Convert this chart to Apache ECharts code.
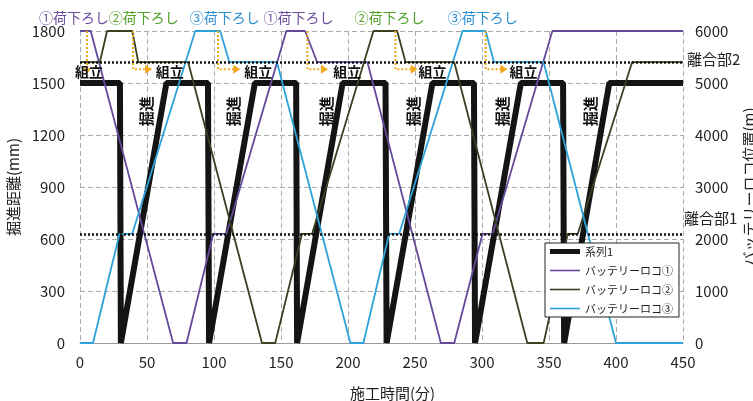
<!DOCTYPE html>
<html><head><meta charset="utf-8">
<script src="https://cdn.jsdelivr.net/npm/echarts/dist/echarts.min.js"></script>
<style>html,body{margin:0;padding:0;background:#fff}#c{width:753px;height:401px}</style>
</head><body><div id="c"></div>
<script>
// ---------- data ----------
const seriesNames = ['系列1', 'バッテリーロコ①', 'バッテリーロコ②', 'バッテリーロコ③'];
// 掘進距離 (mm) vs 施工時間 (分)
const excavation = [[0,1500],[29.8,1500],[30.5,0],[64.5,1500],[95.5,1500],[96.3,0],[130.5,1500],[161.3,1500],[162,0],[196,1500],[228,1500],[228.8,0],[263,1500],[294,1500],[294.8,0],[329,1500],[360.5,1500],[361.3,0],[395,1500],[450,1500]];
// バッテリーロコ位置 (m)
const loco1 = [[0,6000],[8,6000],[69.5,0],[79.5,0],[99.5,2100],[109.3,2100],[154,6000],[168,6000],[177,5400],[214.5,5400],[269.3,0],[279.3,0],[300.4,2100],[308,2100],[352.5,6000],[450,6000]];
const loco2 = [[0,5400],[14.8,5400],[20.2,6000],[39,6000],[43.5,5400],[80.7,5400],[135.8,0],[145.7,0],[165.7,2100],[173.2,2100],[219,6000],[236.7,6000],[243,5400],[279.3,5400],[333.8,0],[346,0],[364,2100],[371.5,2100],[412,5400],[450,5400]];
const loco3 = [[0,0],[9.7,0],[29.5,2100],[39,2100],[86,6000],[104.6,6000],[111.5,5400],[147,5400],[201.8,0],[211.5,0],[230.7,2100],[238.2,2100],[285.5,6000],[302.7,6000],[309,5400],[346,5400],[400,0],[450,0]];
// 離合部
const passingNames = ['離合部2', '離合部1'];
const passingPos = [5400, 2100];
// annotations (x in minutes)
const unloadTexts = ['①荷下ろし','②荷下ろし','③荷下ろし','①荷下ろし','②荷下ろし','③荷下ろし'];
const unloadX = [-4.5, 47.5, 108, 163, 231, 300.5];
const assemblyX = [6.7, 67, 133, 199.5, 263, 331];
const excavTextX = [49.7, 114.5, 183.5, 249, 315.5, 381];
const arrowFromX = [5.2, 39.6, 103, 169.7, 235.4, 302.7];
const arrowToX = [null, 53.8, 119.6, 185, 252, 319];

// ---------- styles ----------
const FONT = '"Noto Sans CJK JP","Noto Sans",sans-serif';
const C1 = '#654a9c', C2 = '#3b4020', C3 = '#2ea2da', CB = '#141414';
const labelColors = {'①': '#6a4c9e', '②': '#52a02a', '③': '#2a8fd0'};
const ORANGE = '#f2a81d';
const thickIcon = 'path://M0,0 L30,0 L30,5 L0,5 Z';
const thinIcon = 'path://M0,0 L30,0 L30,1.6 L0,1.6 Z';

const chart = echarts.init(document.getElementById('c'), null, {renderer: 'canvas'});
const plain = v => String(v);
const axisLabel = {color: '#222', fontSize: 15, fontFamily: FONT, formatter: plain};
const option = {
  animation: false,
  backgroundColor: '#fff',
  textStyle: {fontFamily: FONT},
  grid: {left: 80, right: 70, top: 31, bottom: 58, containLabel: false, outerBoundsMode: 'none'},
  legend: {
    data: seriesNames.map((n, i) => ({name: n, icon: i === 0 ? thickIcon : thinIcon})),
    orient: 'vertical', left: 545, top: 243,
    backgroundColor: '#fff', borderColor: '#222', borderWidth: 1, borderRadius: 0,
    padding: [3, 6, 3, 5], itemGap: 8, itemWidth: 30, itemHeight: 14,
    textStyle: {fontSize: 11, color: '#222', fontFamily: FONT}
  },
  xAxis: {
    type: 'value', min: 0, max: 450, interval: 50,
    name: '施工時間(分)', nameLocation: 'middle', nameGap: 43,
    nameTextStyle: {fontSize: 15, color: '#222', fontFamily: FONT, padding: [0, 0, 0, 22]},
    axisLine: {show: true, lineStyle: {color: '#999'}},
    axisTick: {show: false},
    axisLabel: Object.assign({margin: 12}, axisLabel),
    splitLine: {show: true, lineStyle: {color: '#aaa', type: [5, 3]}}
  },
  yAxis: [{
    type: 'value', min: 0, max: 1800, interval: 300, position: 'left',
    name: '掘進距離(mm)', nameLocation: 'middle', nameGap: 55, nameRotate: 90,
    nameTextStyle: {fontSize: 15, color: '#222', fontFamily: FONT},
    axisLine: {show: false}, axisTick: {show: false},
    axisLabel: Object.assign({margin: 15}, axisLabel),
    splitLine: {show: true, lineStyle: {color: '#aaa', type: [5, 3]}}
  }, {
    type: 'value', min: 0, max: 6000, interval: 1000, position: 'right',
    name: 'バッテリーロコ位置(m)', nameLocation: 'middle', nameGap: 59, nameRotate: 90,
    nameTextStyle: {fontSize: 15, color: '#222', fontFamily: FONT},
    axisLine: {show: false}, axisTick: {show: false},
    axisLabel: Object.assign({margin: 12}, axisLabel),
    splitLine: {show: false}
  }],
  series: [
    {name: seriesNames[0], type: 'line', yAxisIndex: 0, data: excavation, symbol: 'none',
     lineStyle: {color: CB, width: 6}, itemStyle: {color: CB}},
    {name: seriesNames[1], type: 'line', yAxisIndex: 1, data: loco1, symbol: 'none',
     lineStyle: {color: C1, width: 1.8}, itemStyle: {color: C1}},
    {name: seriesNames[2], type: 'line', yAxisIndex: 1, data: loco2, symbol: 'none',
     lineStyle: {color: C2, width: 1.8}, itemStyle: {color: C2}},
    {name: seriesNames[3], type: 'line', yAxisIndex: 1, data: loco3, symbol: 'none',
     lineStyle: {color: C3, width: 1.8}, itemStyle: {color: C3},
     markLine: {silent: true, symbol: 'none', label: {show: false},
       lineStyle: {color: '#111', width: 2.5, type: [2, 2]},
       data: passingPos.map(v => ({yAxis: v}))}}
  ]
};
chart.setOption(option);

// ---------- annotations placed through the chart's own scales ----------
const P = (x, y) => chart.convertToPixel({xAxisIndex: 0, yAxisIndex: 0}, [x, y]);
const PR = (x, y) => chart.convertToPixel({xAxisIndex: 0, yAxisIndex: 1}, [x, y]);
const g = [];
unloadTexts.forEach((t, i) => {
  const p = P(unloadX[i], 1875);
  g.push({type: 'text', x: p[0], y: p[1], z: 100,
    style: {text: t, fill: labelColors[t[0]], font: '14px ' + FONT, align: 'center', verticalAlign: 'middle'}});
});
assemblyX.forEach(x => {
  const p = P(x, 1568);
  g.push({type: 'text', x: p[0], y: p[1], z: 100,
    style: {text: '組立', fill: '#111', font: 'bold 14px ' + FONT, align: 'center', verticalAlign: 'middle'}});
});
excavTextX.forEach(x => {
  const p = P(x, 1337);
  g.push({type: 'text', x: p[0], y: p[1], rotation: Math.PI / 2, z: 100,
    style: {text: '掘進', fill: '#111', font: 'bold 15px ' + FONT, align: 'center', verticalAlign: 'middle'}});
});
arrowFromX.forEach((x, i) => {
  const top = P(x, 1800);
  if (arrowToX[i] === null) {
    const bot = P(x, 1550);
    g.push({type: 'polyline', z: 90, shape: {points: [[top[0], top[1]], [bot[0], bot[1] - 5]]},
      style: {stroke: ORANGE, lineWidth: 2, lineDash: [2, 2], fill: null}});
    g.push({type: 'polygon', z: 90, shape: {points: [[bot[0] - 4, bot[1] - 6], [bot[0] + 4, bot[1] - 6], [bot[0], bot[1]]]},
      style: {fill: ORANGE}});
  } else {
    const mid = P(x, 1580);
    const end = P(arrowToX[i], 1580);
    g.push({type: 'polyline', z: 90, shape: {points: [[top[0], top[1]], [mid[0], mid[1]], [end[0] - 6, end[1]]]},
      style: {stroke: ORANGE, lineWidth: 2, lineDash: [2, 2], fill: null}});
    g.push({type: 'polygon', z: 90, shape: {points: [[end[0] - 7, end[1] - 4.5], [end[0], end[1]], [end[0] - 7, end[1] + 4.5]]},
      style: {fill: ORANGE}});
  }
});
// 離合部 labels beside the right axis
const r2 = PR(450, passingPos[0]);
const r1 = PR(450, passingPos[1]);
g.push({type: 'text', x: r2[0] + 4, y: r2[1] - 3, z: 100,
  style: {text: passingNames[0], fill: '#222', font: '15px ' + FONT, align: 'left', verticalAlign: 'middle'}});
g.push({type: 'text', x: r1[0] + 1, y: r1[1] - 16, z: 100,
  style: {text: passingNames[1], fill: '#222', font: '15px ' + FONT, align: 'left', verticalAlign: 'middle'}});
chart.setOption({graphic: g});
</script>
</body></html>
